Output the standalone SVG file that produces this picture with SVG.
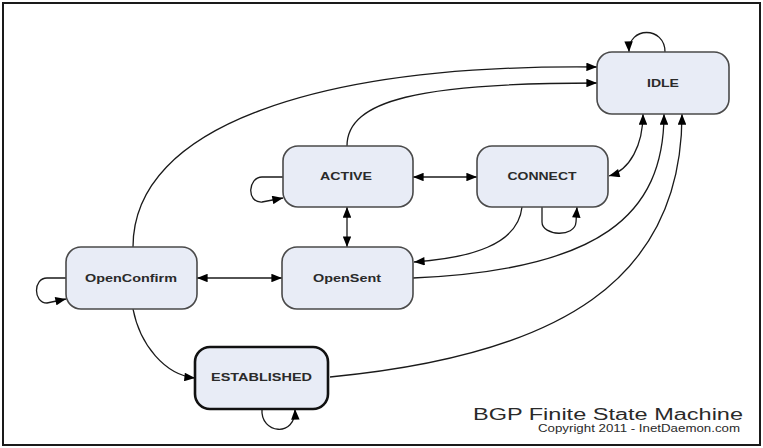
<svg xmlns="http://www.w3.org/2000/svg" width="763" height="448" viewBox="0 0 763 448">
<style>
.node rect{fill:#e8ecf6;stroke:#4a4a4a;stroke-width:1.6}
.node text{font-family:"Liberation Sans",Arial,sans-serif;font-weight:bold;font-size:11px;fill:#2a2a2a;text-anchor:middle}
.est rect{stroke:#111;stroke-width:2.6}
.edges path{fill:none;stroke:#1a1a1a;stroke-width:1.3}
.one{marker-end:url(#ah)}
.two{marker-start:url(#ah);marker-end:url(#ah)}
.title{font-family:"Liberation Sans",Arial,sans-serif;fill:#2a2a2a}
</style>
<defs>
<marker id="ah" viewBox="0 0 10 8" refX="10" refY="4" markerWidth="12" markerHeight="8.5" markerUnits="userSpaceOnUse" orient="auto-start-reverse">
<path d="M0,0 L10,4 L0,8 z" fill="#000"/>
</marker>
</defs>
<rect x="3" y="3" width="757" height="442" fill="#fff" stroke="#1a1a1a" stroke-width="2"/>
<g class="edges" id="connectors">
<path class="one" d="M665,52 C665,26 628,26 629,52"/>
<path class="one" d="M133,247 C133,125 320,64 597,67"/>
<path class="one" d="M347,146 C347,100 420,83 597,83"/>
<path class="two" d="M609,176 C630,170 643,145 643,114"/>
<path class="one" d="M522,207 C518,245 470,258 414,262"/>
<path class="one" d="M413,278 C600,270 664,215 664,114"/>
<path class="one" d="M330,377 C560,355 682,280 682,114"/>
<path class="one" d="M133,309 C140,345 165,375 195,378"/>
<path class="one" d="M262,409 C260,434 296,438 295,409"/>
<path class="one" d="M283,177 L262,177 C248,177 246,203 262,202 L283,198"/>
<path class="one" d="M66,278 L47,278 C33,278 33,303 47,303 L66,299"/>
<path class="one" d="M542,207 L542,222 C542,236 575,238 576,222 L577,207"/>
<path class="two" d="M413,177 L477,177"/>
<path class="two" d="M347,207 L347,247"/>
<path class="two" d="M197,278 L282,278"/>
</g>
<g class="node" id="idle"><rect x="597" y="52" width="132" height="62" rx="15"/><text x="663" y="87" textLength="32" lengthAdjust="spacingAndGlyphs">IDLE</text></g>
<g class="node" id="active"><rect x="283" y="146" width="130" height="61" rx="15"/><text x="346" y="180" textLength="52" lengthAdjust="spacingAndGlyphs">ACTIVE</text></g>
<g class="node" id="connect"><rect x="477" y="146" width="131" height="61" rx="15"/><text x="542" y="180" textLength="69" lengthAdjust="spacingAndGlyphs">CONNECT</text></g>
<g class="node" id="openconfirm"><rect x="66" y="247" width="131" height="62" rx="15"/><text x="131" y="282" textLength="92" lengthAdjust="spacingAndGlyphs">OpenConfirm</text></g>
<g class="node" id="opensent"><rect x="282" y="247" width="131" height="62" rx="15"/><text x="347" y="282" textLength="68" lengthAdjust="spacingAndGlyphs">OpenSent</text></g>
<g class="node est" id="established"><rect x="195" y="347" width="133" height="62" rx="15"/><text x="261.5" y="381" textLength="101" lengthAdjust="spacingAndGlyphs">ESTABLISHED</text></g>
<text class="title" x="473" y="420" font-size="16" textLength="270" lengthAdjust="spacingAndGlyphs">BGP Finite State Machine</text>
<text class="title" x="538" y="432" font-size="10" textLength="202" lengthAdjust="spacingAndGlyphs">Copyright 2011 - InetDaemon.com</text>
</svg>
